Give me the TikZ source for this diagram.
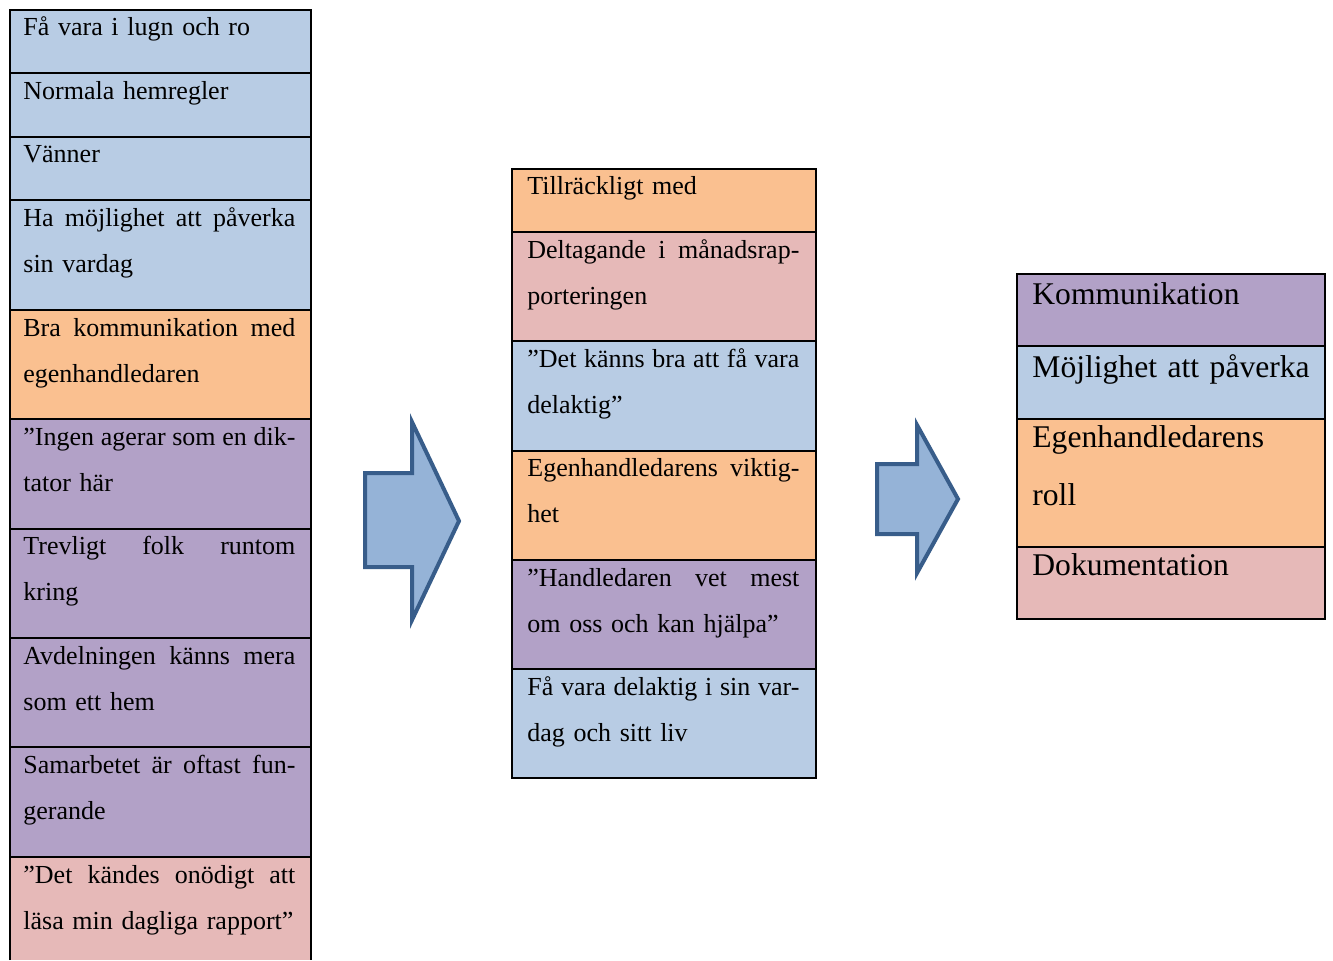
\documentclass[tikz,border=0pt]{standalone}
\usepackage{fontspec}
\setmainfont{Liberation Serif}
\definecolor{cblue}{HTML}{B8CCE4}
\definecolor{corange}{HTML}{FAC090}
\definecolor{cpurple}{HTML}{B2A1C7}
\definecolor{cpink}{HTML}{E6B9B8}
\definecolor{afill}{HTML}{95B3D7}
\definecolor{aline}{HTML}{385D8A}
\newcommand{\jl}[1]{\hbox to 136pt{#1}}
\tikzset{
    cell/.style={draw=black, line width=1pt},
    txt/.style={anchor=base west, inner sep=0pt, text width=136pt, align=left,
        font=\fontsize{13}{23}\selectfont},
    bigtxt/.style={anchor=base west, inner sep=0pt, text width=140pt, align=left,
        font=\fontsize{15.8}{29}\selectfont},
    blockarrow/.style={fill=afill, draw=aline, line width=2pt, line join=miter},
}
\begin{document}
\begin{tikzpicture}[x=0.5pt, y=-0.5pt]
    \useasboundingbox (0,0) rectangle (1333,960);
    % left column
    \draw[cell, fill=cblue] (10,10) rectangle (311,73);
    \draw[cell, fill=cblue] (10,73) rectangle (311,137);
    \draw[cell, fill=cblue] (10,137) rectangle (311,200);
    \draw[cell, fill=cblue] (10,200) rectangle (311,310);
    \draw[cell, fill=corange] (10,310) rectangle (311,419);
    \draw[cell, fill=cpurple] (10,419) rectangle (311,529);
    \draw[cell, fill=cpurple] (10,529) rectangle (311,638);
    \draw[cell, fill=cpurple] (10,638) rectangle (311,747);
    \draw[cell, fill=cpurple] (10,747) rectangle (311,857);
    \fill[cpink] (10,857) rectangle (311,960);
    \draw[cell] (10,960) -- (10,857) -- (311,857) -- (311,960);
    \node[txt] (l1) at (23,35) {Få vara i lugn och ro};
    \node[txt] (l2) at (23,99) {Normala hemregler};
    \node[txt] (l3) at (23,162) {Vänner};
    \node[txt] (l4) at (23,226) {\jl{Ha\hfill möjlighet\hfill att\hfill påverka}\\sin vardag};
    \node[txt] (l5) at (23,336) {\jl{Bra\hfill kommunikation\hfill med}\\egenhandledaren};
    \node[txt] (l6) at (23,445) {\jl{”Ingen\hfill agerar\hfill som\hfill en\hfill dik-}\\tator här};
    \node[txt] (l7) at (23,554) {\jl{Trevligt\hfill folk\hfill runtom}\\kring};
    \node[txt] (l8) at (23,664) {\jl{Avdelningen\hfill känns\hfill mera}\\som ett hem};
    \node[txt] (l9) at (23,773) {\jl{Samarbetet\hfill är\hfill oftast\hfill fun-}\\gerande};
    \node[txt] (l10) at (23,883) {\jl{”Det\hfill kändes\hfill onödigt\hfill att}\\\mbox{läsa min dagliga rapport”}};
    % first arrow
    \draw[blockarrow] (365,473) -- (412,473) -- (412,422) -- (459,521)
        -- (412,620) -- (412,567) -- (365,567) -- cycle;
    % middle column
    \draw[cell, fill=corange] (512,169) rectangle (816,232);
    \draw[cell, fill=cpink] (512,232) rectangle (816,341);
    \draw[cell, fill=cblue] (512,341) rectangle (816,451);
    \draw[cell, fill=corange] (512,451) rectangle (816,560);
    \draw[cell, fill=cpurple] (512,560) rectangle (816,669);
    \draw[cell, fill=cblue] (512,669) rectangle (816,778);
    \node[txt] (m1) at (527,194) {Tillräckligt med};
    \node[txt] (m2) at (527,258) {\jl{Deltagande\hfill i\hfill månadsrap-}\\porteringen};
    \node[txt] (m3) at (527,367) {\jl{”Det\hfill känns\hfill bra\hfill att\hfill få\hfill vara}\\delaktig”};
    \node[txt] (m4) at (527,476) {\jl{Egenhandledarens\hfill viktig-}\\het};
    \node[txt] (m5) at (527,586) {\jl{”Handledaren\hfill vet\hfill mest}\\om oss och kan hjälpa”};
    \node[txt] (m6) at (527,695) {\jl{Få\hfill vara\hfill delaktig\hfill i\hfill sin\hfill var-}\\dag och sitt liv};
    % second arrow
    \draw[blockarrow] (877,464) -- (917,464) -- (917,425) -- (958,499)
        -- (917,573) -- (917,534) -- (877,534) -- cycle;
    % right column
    \draw[cell, fill=cpurple] (1017,274) rectangle (1325,346);
    \draw[cell, fill=cblue] (1017,346) rectangle (1325,419);
    \draw[cell, fill=corange] (1017,419) rectangle (1325,547);
    \draw[cell, fill=cpink] (1017,547) rectangle (1325,619);
    \node[bigtxt] (r1) at (1032,304) {Kommunikation};
    \node[bigtxt] (r2) at (1032,377) {Möjlighet att påverka};
    \node[bigtxt] (r3) at (1032,447) {Egenhandledarens\\roll};
    \node[bigtxt] (r4) at (1032,575) {Dokumentation};
\end{tikzpicture}
\end{document}
